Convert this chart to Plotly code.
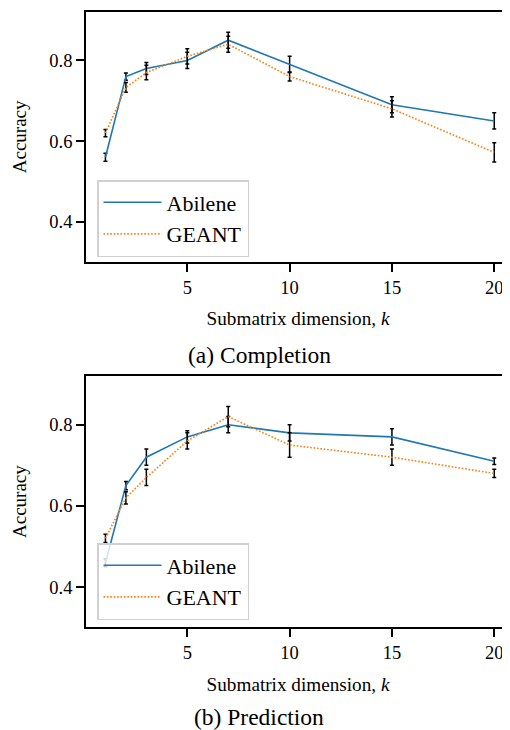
import plotly.graph_objects as go

k = [1, 2, 3, 5, 7, 10, 15, 20]
series_names = ["Abilene", "GEANT"]

comp_abilene = [0.56, 0.76, 0.78, 0.80, 0.85, 0.79, 0.69, 0.65]
comp_abilene_err = [0.01, 0.009, 0.015, 0.02, 0.02, 0.02, 0.02, 0.02]
comp_geant = [0.62, 0.733, 0.77, 0.81, 0.84, 0.76, 0.68, 0.572]
comp_geant_err = [0.009, 0.012, 0.018, 0.019, 0.02, 0.011, 0.02, 0.024]

pred_abilene = [0.46, 0.65, 0.72, 0.77, 0.80, 0.78, 0.77, 0.71]
pred_abilene_err = [0.01, 0.01, 0.02, 0.015, 0.02, 0.02, 0.02, 0.008]
pred_geant = [0.52, 0.62, 0.67, 0.76, 0.82, 0.75, 0.72, 0.68]
pred_geant_err = [0.01, 0.015, 0.02, 0.02, 0.025, 0.03, 0.02, 0.01]

captions = ["(a) Completion", "(b) Prediction"]
x_title = "Submatrix dimension, <i>k</i>"
y_title = "Accuracy"
x_ticks = [5, 10, 15, 20]
y_ticks = [0.4, 0.6, 0.8]

# page body has an 8px margin: figure sized to fill the 510x730 window exactly
OFF = 8
W, H = 510 - OFF, 730 - OFF
def px(x):
    return (x - OFF) / W
def py(y):
    return 1 - (y - OFF) / H

FONT = "Liberation Serif"
BLUE = "#1f77b4"
ORANGE = "#ff7f0e"

fig = go.Figure()

panels = [
    ("x", "y", "legend", comp_abilene, comp_abilene_err, comp_geant, comp_geant_err),
    ("x2", "y2", "legend2", pred_abilene, pred_abilene_err, pred_geant, pred_geant_err),
]
for xa, ya, lg, ab, abe, ge, gee in panels:
    fig.add_trace(go.Scatter(
        x=k, y=ab, name=series_names[0], mode="lines", xaxis=xa, yaxis=ya, legend=lg,
        line=dict(color=BLUE, width=1.6),
        error_y=dict(type="data", array=abe, color="black", thickness=1.5, width=2),
    ))
    fig.add_trace(go.Scatter(
        x=k, y=ge, name=series_names[1], mode="lines", xaxis=xa, yaxis=ya, legend=lg,
        line=dict(color=ORANGE, width=1.6, dash="1.6px,1.8px"),
        error_y=dict(type="data", array=gee, color="black", thickness=1.5, width=2),
    ))

xdom = [px(86), 1.0]
ydoms = [[py(261.7), py(12)], [py(627.3), py(376)]]

def xaxis_cfg(anchor):
    return dict(
        domain=xdom, anchor=anchor, range=[0.05, 20.77], automargin=False,
        tickmode="array", tickvals=x_ticks, ticks="outside", ticklen=8, tickwidth=1.8,
        tickcolor="black", showline=True, linecolor="black", linewidth=1.8, mirror=True,
        showgrid=False, zeroline=False,
        tickfont=dict(family=FONT, size=18.5, color="black"),
        title=dict(text=x_title, font=dict(family=FONT, size=19.2, color="black"), standoff=15),
    )

def yaxis_cfg(anchor, dom):
    return dict(
        domain=dom, anchor=anchor, range=[0.301, 0.920], automargin=False,
        tickmode="array", tickvals=y_ticks, ticktext=[f"{v:.1f}" for v in y_ticks],
        ticks="outside", ticklen=8, tickwidth=1.8, tickcolor="black",
        showline=True, linecolor="black", linewidth=1.8, mirror=False,
        showgrid=False, zeroline=False,
        tickfont=dict(family=FONT, size=18.5, color="black"),
        title=dict(text=y_title, font=dict(family=FONT, size=19, color="black"), standoff=18),
    )

def legend_cfg(top_px):
    return dict(
        x=px(97), y=py(top_px), xanchor="left", yanchor="top",
        bgcolor="rgba(255,255,255,0.8)", bordercolor="#d0d0d0", borderwidth=1.5,
        font=dict(family=FONT, size=22, color="black"),
        tracegroupgap=0, itemwidth=58,
    )

fig.update_layout(
    width=W, height=H,
    margin=dict(l=0, r=0, t=0, b=0, autoexpand=False),
    paper_bgcolor="white", plot_bgcolor="white",
    font=dict(family=FONT, color="black"),
    xaxis=xaxis_cfg("y"), yaxis=yaxis_cfg("x", ydoms[0]),
    xaxis2=xaxis_cfg("y2"), yaxis2=yaxis_cfg("x2", ydoms[1]),
    legend=legend_cfg(180), legend2=legend_cfg(543),
    showlegend=True,
)

for cap, ypos in zip(captions, [355, 717]):
    fig.add_annotation(
        text=cap, xref="paper", yref="paper", x=px(259), y=py(ypos),
        xanchor="center", yanchor="middle", showarrow=False,
        font=dict(family=FONT, size=23.5, color="black"),
    )

fig.write_html("out.html")
